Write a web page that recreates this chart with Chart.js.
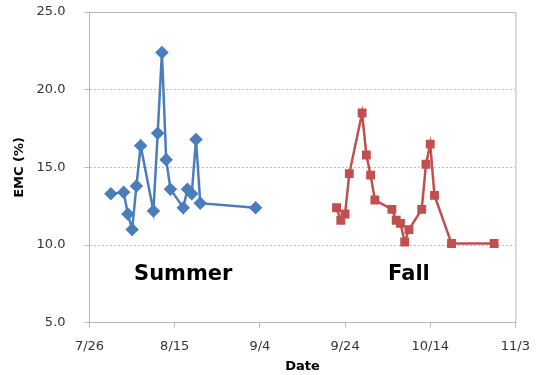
<!DOCTYPE html>
<html>
<head>
<meta charset="utf-8">
<script src="https://cdn.jsdelivr.net/npm/chart.js@4"></script>
<style>
  html, body { margin: 0; padding: 0; background: #fff; }
  #wrap { width: 541px; height: 375px; }
</style>
</head>
<body>
<div id="wrap"><canvas id="emcChart" width="541" height="375"></canvas></div>
<script>
// measurement dates (M/D) and EMC values (%)
const summerDates = ["7/31", "8/3", "8/4", "8/5", "8/6", "8/7", "8/10", "8/11", "8/12", "8/13", "8/14", "8/17", "8/18", "8/19", "8/20", "8/21", "9/3"];
const summerEMC = [13.3, 13.4, 12.0, 11.0, 13.8, 16.4, 12.2, 17.2, 22.4, 15.5, 13.6, 12.4, 13.6, 13.3, 16.8, 12.7, 12.4];

const fallDates = ["9/22", "9/23", "9/24", "9/25", "9/28", "9/29", "9/30", "10/1", "10/5", "10/6", "10/7", "10/8", "10/9", "10/12", "10/13", "10/14", "10/15", "10/19", "10/29"];
const fallEMC = [12.4, 11.6, 12.0, 14.6, 18.5, 15.8, 14.5, 12.9, 12.3, 11.6, 11.4, 10.2, 11.0, 12.3, 15.2, 16.5, 13.2, 10.1, 10.1];

const xTickStart = "7/26";
const xTickEnd = "11/3";
const xTickStep = 20; // days

const seasonLabels = [
  { text: "Summer", date: "8/17", y: 8.1 },
  { text: "Fall", date: "10/9", y: 8.1 }
];

const YEAR = 2013;
const DAY = 86400000;
const jan1 = Date.UTC(YEAR, 0, 1);

function toDay(md) {
  const [m, d] = md.split("/").map(Number);
  return Math.round((Date.UTC(YEAR, m - 1, d) - jan1) / DAY);
}
function fromDay(n) {
  const dt = new Date(jan1 + n * DAY);
  return (dt.getUTCMonth() + 1) + "/" + dt.getUTCDate();
}
function points(dates, vals) {
  return dates.map((d, i) => ({ x: toDay(d), y: vals[i] }));
}

const FONT = "'DejaVu Sans', 'Noto Sans', sans-serif";

const frame = {
  id: "frame",
  afterDraw(chart) {
    const { ctx, chartArea: a } = chart;
    ctx.save();
    ctx.strokeStyle = "#b8b8b8";
    ctx.lineWidth = 1;
    ctx.beginPath();
    ctx.moveTo(a.left, a.top + 0.5);
    ctx.lineTo(a.right + 0.5, a.top + 0.5);
    ctx.lineTo(a.right + 0.5, a.bottom);
    ctx.stroke();
    ctx.restore();
  }
};

const seasonText = {
  id: "seasonText",
  afterDatasetsDraw(chart) {
    const { ctx, scales } = chart;
    ctx.save();
    ctx.fillStyle = "#000";
    ctx.font = "bold 21px " + FONT;
    ctx.textAlign = "center";
    ctx.textBaseline = "middle";
    seasonLabels.forEach(s => {
      ctx.fillText(s.text, scales.x.getPixelForValue(toDay(s.date)), scales.y.getPixelForValue(s.y));
    });
    ctx.restore();
  }
};

const ctx = document.getElementById("emcChart").getContext("2d");
new Chart(ctx, {
  type: "line",
  data: {
    datasets: [
      {
        label: "Summer",
        data: points(summerDates, summerEMC),
        borderColor: "#4a7ebb",
        backgroundColor: "#4a7ebb",
        borderWidth: 2.5,
        pointStyle: "rectRot",
        pointRadius: 5,
        pointHoverRadius: 5,
        tension: 0,
        fill: false,
      },
      {
        label: "Fall",
        data: points(fallDates, fallEMC),
        borderColor: "#c0504d",
        backgroundColor: "#c0504d",
        borderWidth: 2.5,
        pointStyle: "rect",
        pointRadius: 4.5,
        pointHoverRadius: 4.5,
        tension: 0,
        fill: false,
      },
    ],
  },
  options: {
    responsive: false,
    animation: false,
    devicePixelRatio: 1,
    layout: { autoPadding: false, padding: { top: 12, right: 25, left: 12, bottom: 0 } },
    plugins: {
      legend: { display: false },
      tooltip: { enabled: false },
    },
    scales: {
      x: {
        type: "linear",
        min: toDay(xTickStart),
        max: toDay(xTickEnd),
        afterBuildTicks(scale) {
          const t = [];
          for (let v = toDay(xTickStart); v <= toDay(xTickEnd); v += xTickStep) t.push({ value: v });
          scale.ticks = t;
        },
        grid: { drawOnChartArea: false, color: "#b8b8b8", tickLength: 5 },
        border: { color: "#b8b8b8" },
        ticks: {
          color: "#333",
          font: { family: FONT, size: 13 },
          padding: 11,
          maxRotation: 0,
          callback: v => fromDay(v),
        },
        title: {
          display: true,
          text: "Date",
          color: "#000",
          font: { family: FONT, size: 13, weight: "bold" },
          padding: { top: -7, bottom: 1 },
        },
      },
      y: {
        min: 5,
        max: 25,
        afterFit(scale) {
          // let layout padding alone decide the top edge
          scale.paddingTop = 0;
          scale.paddingBottom = 0;
        },
        ticks: {
          stepSize: 5,
          color: "#333",
          font: { family: FONT, size: 13 },
          padding: 19,
          callback: v => v.toFixed(1),
        },
        grid: {
          color: ctx => (ctx.tick && (ctx.tick.value === 5 || ctx.tick.value === 25)) ? "rgba(0,0,0,0)" : "#c0c0c0",
          tickColor: "#b8b8b8",
          tickLength: 5,
        },
        border: { color: "#b8b8b8", dash: [2, 2] },
        title: {
          display: true,
          text: "EMC (%)",
          color: "#000",
          font: { family: FONT, size: 13, weight: "bold" },
          padding: { top: 0, bottom: -10 },
        },
      },
    },
  },
  plugins: [frame, seasonText],
});
</script>
</body>
</html>
